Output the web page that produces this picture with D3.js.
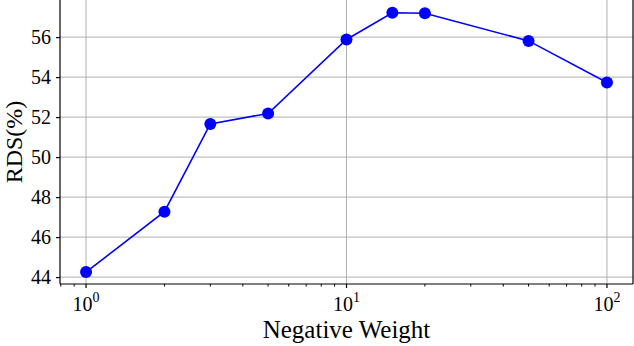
<!DOCTYPE html>
<html>
<head>
<meta charset="utf-8">
<script src="https://cdn.jsdelivr.net/npm/d3@7"></script>
<style>
  body { margin: 0; background: #fff; }
  svg { display: block; }
  text { font-family: "Liberation Serif", "Times New Roman", serif; fill: #000; }
</style>
</head>
<body>
<div id="container"></div>
<script>
// data
const weights = [1, 2, 3, 5, 10, 15, 20, 50, 100];
const rds = [44.25, 47.27, 51.66, 52.18, 55.88, 57.22, 57.19, 55.81, 53.73];
const yTicks = [44, 46, 48, 50, 52, 54, 56];
const xMajor = [1, 10, 100];

const W = 634, H = 346;
const margin = {top: 0, right: 1, bottom: 62, left: 60},
      width = W - margin.left - margin.right,
      height = H - margin.top - margin.bottom;

const svg = d3.select("#container").append("svg")
  .attr("width", W)
  .attr("height", H);

const chart = svg.append("g")
  .attr("transform", `translate(${margin.left},${margin.top})`);

// log x with matplotlib-like 5% padding
const x = d3.scaleLog()
  .domain([Math.pow(10, -0.1), Math.pow(10, 2.1)])
  .range([0, width]);

const y = d3.scaleLinear()
  .domain([43.655, 57.855])
  .range([height, 0]);

// grid lines
chart.append("g")
  .selectAll("line")
  .data(yTicks)
  .join("line")
  .attr("x1", 0).attr("x2", width)
  .attr("y1", d => y(d)).attr("y2", d => y(d))
  .attr("stroke", "#b0b0b0")
  .attr("stroke-width", 1);

chart.append("g")
  .selectAll("line")
  .data(xMajor)
  .join("line")
  .attr("x1", d => x(d)).attr("x2", d => x(d))
  .attr("y1", 0).attr("y2", height)
  .attr("stroke", "#b0b0b0")
  .attr("stroke-width", 1);

// spines (top one falls outside the crop)
chart.append("line")
  .attr("x1", 0).attr("x2", 0).attr("y1", 0).attr("y2", height)
  .attr("stroke", "#000").attr("stroke-width", 1.2);
chart.append("line")
  .attr("x1", width).attr("x2", width).attr("y1", 0).attr("y2", height)
  .attr("stroke", "#000").attr("stroke-width", 1.2);
chart.append("line")
  .attr("x1", 0).attr("x2", width).attr("y1", height).attr("y2", height)
  .attr("stroke", "#000").attr("stroke-width", 1.2);

// y axis
const yAxis = chart.append("g")
  .attr("font-family", null)
  .call(d3.axisLeft(y).tickValues(yTicks).tickSize(4).tickPadding(5).tickFormat(d3.format("d")))
  .call(g => g.select(".domain").remove());
yAxis.selectAll("line").attr("stroke", "#000").attr("stroke-width", 1.2);
yAxis.selectAll("text")
  .style("font-family", "'Liberation Serif', serif")
  .style("font-size", "20px")
  .attr("fill", "#000");

// x axis: minor ticks from the log scale, majors as powers of ten
const xMinor = x.ticks().filter(d => xMajor.indexOf(d) < 0);
chart.append("g")
  .selectAll("line")
  .data(xMinor)
  .join("line")
  .attr("x1", d => x(d)).attr("x2", d => x(d))
  .attr("y1", height).attr("y2", height + 2.5)
  .attr("stroke", "#000").attr("stroke-width", 1);

chart.append("g")
  .selectAll("line")
  .data(xMajor)
  .join("line")
  .attr("x1", d => x(d)).attr("x2", d => x(d))
  .attr("y1", height).attr("y2", height + 4)
  .attr("stroke", "#000").attr("stroke-width", 1.2);

const xLab = chart.append("g")
  .selectAll("text")
  .data(xMajor)
  .join("text")
  .attr("x", d => x(d))
  .attr("y", height + 27)
  .attr("text-anchor", "middle")
  .style("font-size", "20px");
xLab.append("tspan").text("10");
xLab.append("tspan")
  .attr("dy", -9)
  .style("font-size", "14px")
  .text(d => Math.round(Math.log10(d)));

// line + markers
const dataLine = d3.line()
  .x((d, i) => x(weights[i]))
  .y(d => y(d));

chart.append("path")
  .datum(rds)
  .attr("fill", "none")
  .attr("stroke", "#0000ff")
  .attr("stroke-width", 1.6)
  .attr("d", dataLine);

chart.selectAll("circle")
  .data(rds)
  .join("circle")
  .attr("cx", (d, i) => x(weights[i]))
  .attr("cy", d => y(d))
  .attr("r", 6)
  .attr("fill", "#0000ff");

// axis titles
svg.append("text")
  .attr("x", margin.left + width / 2)
  .attr("y", 338)
  .attr("text-anchor", "middle")
  .style("font-size", "25px")
  .text("Negative Weight");

svg.append("text")
  .attr("transform", `translate(22,${margin.top + height / 2}) rotate(-90)`)
  .attr("text-anchor", "middle")
  .style("font-size", "24px")
  .text("RDS(%)");
</script>
</body>
</html>
